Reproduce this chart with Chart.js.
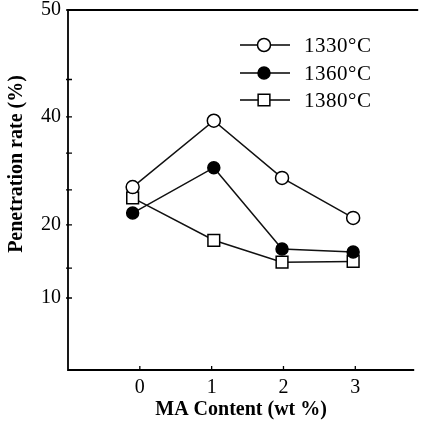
<!DOCTYPE html>
<html>
<head>
<meta charset="utf-8">
<script src="https://cdn.jsdelivr.net/npm/chart.js@4.4.1/dist/chart.umd.min.js"></script>
<style>
  body { margin: 0; background: #fff; }
  canvas { display: block; }
</style>
</head>
<body>
<canvas id="myChart" width="424" height="427"></canvas>
<script>
/* Data */
const maContent = [0, 1, 2, 3];                 // x tick values
const pointX = [-0.1, 1.03, 1.98, 2.97];        // where the marks sit on the x axis
const seriesNames = ['1330°C', '1360°C', '1380°C'];
const rate1330 = [27.0, 39.3, 28.7, 21.3];
const rate1360 = [22.2, 30.6, 16.7, 16.3];
const rate1380 = [25.0, 17.9, 14.9, 15.0];
const yTickValues = [10, 14.1, 20, 26.5, 33.3, 40, 43.5, 50];
const yTickLabels = ['10', '20', '40', '50'];

/* the printed y axis is not evenly spaced, so map it piece by piece */
const yStops = [0, 10, 20, 40, 50];
const yFracs = [0, 0.2, 0.403, 0.703, 1];

function interp(v, from, to) {
    for (let i = 1; i < from.length; i++) {
        if (v <= from[i] || i === from.length - 1) {
            const t = (v - from[i - 1]) / (from[i] - from[i - 1]);
            return to[i - 1] + t * (to[i] - to[i - 1]);
        }
    }
    return to[0];
}

class BrokenScale extends Chart.LinearScale {
    getPixelForValue(value) {
        return this.getPixelForDecimal(interp(value, yStops, yFracs));
    }
    getValueForPixel(pixel) {
        return interp(this.getDecimalForPixel(pixel), yFracs, yStops);
    }
}
BrokenScale.id = 'broken';
BrokenScale.defaults = Chart.LinearScale.defaults;
Chart.register(BrokenScale);

function points(values) {
    return values.map((v, i) => ({ x: pointX[i], y: v }));
}

// Frame, inward ticks, axis titles and the legend
const framePlugin = {
    id: 'frame',
    afterDraw(chart) {
        const ctx = chart.ctx;
        const a = chart.chartArea;
        const xs = chart.scales.x, ys = chart.scales.y;
        ctx.save();
        ctx.strokeStyle = '#000';
        ctx.lineWidth = 1.8;
        ctx.beginPath();
        ctx.moveTo(a.right + 4, a.top);
        ctx.lineTo(a.left, a.top);
        ctx.lineTo(a.left, a.bottom);
        ctx.lineTo(a.right, a.bottom);
        ctx.stroke();

        ctx.lineWidth = 1.3;
        ctx.beginPath();
        xs.ticks.forEach((t, i) => {
            const px = xs.getPixelForTick(i);
            ctx.moveTo(px, a.bottom);
            ctx.lineTo(px, a.bottom - 4);
        });
        ys.ticks.forEach((t, i) => {
            const py = ys.getPixelForTick(i);
            ctx.moveTo(a.left - 2, py);
            ctx.lineTo(a.left + 4, py);
        });
        ctx.stroke();

        // axis titles
        ctx.fillStyle = '#000';
        ctx.font = 'bold 20px "Liberation Serif"';
        ctx.textAlign = 'center';
        ctx.textBaseline = 'middle';
        ctx.fillText('MA Content (wt %)', (a.left + a.right) / 2, 410);
        ctx.save();
        ctx.translate(17, 164);
        ctx.rotate(-Math.PI / 2);
        ctx.fillText('Penetration rate (%)', 0, 0);
        ctx.restore();

        // legend
        const rows = [45, 73, 100];
        ctx.font = '21px "Liberation Serif"';
        ctx.letterSpacing = '0.5px';
        ctx.textAlign = 'left';
        chart.data.datasets.forEach((ds, i) => {
            const y = rows[i];
            ctx.strokeStyle = '#000';
            ctx.lineWidth = 1.5;
            ctx.beginPath();
            ctx.moveTo(240, y);
            ctx.lineTo(290, y);
            ctx.stroke();
            ctx.fillStyle = ds.pointBackgroundColor;
            ctx.strokeStyle = ds.pointBorderColor;
            ctx.lineWidth = ds.pointBorderWidth;
            Chart.helpers.drawPoint(ctx, {
                pointStyle: ds.pointStyle,
                radius: ds.pointRadius,
                rotation: 0,
                borderWidth: ds.pointBorderWidth
            }, 264, y);
            ctx.fillStyle = '#000';
            ctx.fillText(ds.label, 304, y + 1);
        });
        ctx.restore();
    }
};

const lineStyle = {
    borderColor: '#111',
    borderWidth: 1.5,
    pointBorderColor: '#000',
    pointBorderWidth: 1.5,
    pointHoverRadius: 0
};

const config = {
    type: 'line',
    data: {
        datasets: [
            Object.assign({}, lineStyle, {
                label: seriesNames[0], data: points(rate1330),
                pointStyle: 'circle', pointRadius: 6.5, pointBackgroundColor: '#fff'
            }),
            Object.assign({}, lineStyle, {
                label: seriesNames[1], data: points(rate1360),
                pointStyle: 'circle', pointRadius: 6, pointBackgroundColor: '#000'
            }),
            Object.assign({}, lineStyle, {
                label: seriesNames[2], data: points(rate1380),
                pointStyle: 'rect', pointRadius: 8.3, pointBackgroundColor: '#fff'
            })
        ]
    },
    options: {
        responsive: false,
        animation: false,
        layout: { padding: { top: 10, right: 0, left: 0, bottom: 0 } },
        plugins: { legend: { display: false }, tooltip: { enabled: false } },
        scales: {
            x: {
                type: 'linear',
                min: -1,
                max: 3.82,
                grid: { display: false, drawTicks: false },
                border: { display: false },
                afterBuildTicks: s => { s.ticks = maContent.map(v => ({ value: v })); },
                afterFit: s => { s.height = 57; s.paddingLeft = 0; s.paddingRight = 0; },
                ticks: {
                    padding: 6,
                    color: '#000',
                    font: { family: 'Liberation Serif', size: 20 },
                    callback: v => String(v)
                }
            },
            y: {
                type: 'broken',
                min: 0,
                max: 50,
                grid: { display: false, drawTicks: false },
                border: { display: false },
                afterBuildTicks: s => { s.ticks = yTickValues.map(v => ({ value: v })); },
                afterFit: s => { s.width = 68; s.paddingTop = 0; s.paddingBottom = 0; },
                ticks: {
                    padding: 7,
                    color: '#000',
                    font: { family: 'Liberation Serif', size: 20 },
                    callback: v => yTickLabels.includes(String(v)) ? String(v) : ''
                }
            }
        }
    },
    plugins: [framePlugin]
};

const myChart = new Chart(document.getElementById('myChart'), config);
</script>
</body>
</html>
